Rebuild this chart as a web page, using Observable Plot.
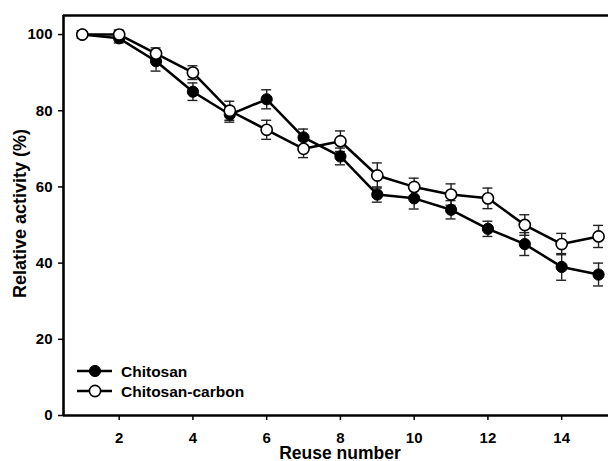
<!DOCTYPE html>
<html>
<head>
<meta charset="utf-8">
<script src="https://cdn.jsdelivr.net/npm/d3@7"></script>
<script src="https://cdn.jsdelivr.net/npm/@observablehq/plot@0.6"></script>
<style>
  html, body { margin: 0; padding: 0; background: #fff; }
  #chart { width: 608px; height: 461px; }
</style>
</head>
<body>
<div id="chart"></div>
<script>
const reuse = [1, 2, 3, 4, 5, 6, 7, 8, 9, 10, 11, 12, 13, 14, 15];
const chitosan = [100, 99, 93, 85, 79, 83, 73, 68, 58, 57, 54, 49, 45, 39, 37];
const chitosanErr = [1, 1.2, 2.6, 2.3, 2, 2.5, 2.2, 2.2, 2, 2.8, 2.4, 2, 3, 3.5, 3];
const carbon = [100, 100, 95, 90, 80, 75, 70, 72, 63, 60, 58, 57, 50, 45, 47];
const carbonErr = [1, 1.2, 1.5, 1.8, 2.5, 2.5, 2.3, 2.7, 3.3, 2.3, 2.8, 2.7, 2.7, 2.8, 2.9];
const seriesNames = ["Chitosan", "Chitosan-carbon"];
const xTicks = [2, 4, 6, 8, 10, 12, 14];
const yTicks = [0, 20, 40, 60, 80, 100];
const xDomain = [0.49, 15.27];
const yDomain = [0, 105];

const data = [];
reuse.forEach((r, i) => {
  data.push({x: r, y: chitosan[i], e: chitosanErr[i], s: seriesNames[0]});
});
reuse.forEach((r, i) => {
  data.push({x: r, y: carbon[i], e: carbonErr[i], s: seriesNames[1]});
});
const capHalf = 0.135;
const font = "'Liberation Sans', Arial, sans-serif";

const plot = Plot.plot({
  width: 608,
  height: 461,
  marginLeft: 63,
  marginRight: 0,
  marginTop: 15,
  marginBottom: 46,
  style: {fontFamily: font, background: "#fff", overflow: "visible"},
  x: {domain: xDomain},
  y: {domain: yDomain},
  marks: [
    Plot.axisX({ticks: xTicks, tickSize: 5, tickPadding: 12, fontSize: 15, fontWeight: "bold", label: null, strokeWidth: 1.5, stroke: "#000", fill: "#000"}),
    Plot.axisY({ticks: yTicks, tickSize: 5, tickPadding: 6, fontSize: 15, fontWeight: "bold", label: null, strokeWidth: 1.5, stroke: "#000", fill: "#000"}),
    // error bars
    Plot.ruleX(data, {x: "x", y1: d => d.y - d.e, y2: d => d.y + d.e, stroke: "#222", strokeWidth: 1.4}),
    Plot.ruleY(data, {y: d => d.y - d.e, x1: d => d.x - capHalf, x2: d => d.x + capHalf, stroke: "#222", strokeWidth: 1.4}),
    Plot.ruleY(data, {y: d => d.y + d.e, x1: d => d.x - capHalf, x2: d => d.x + capHalf, stroke: "#222", strokeWidth: 1.4}),
    // lines
    Plot.line(data, {x: "x", y: "y", z: "s", stroke: "#000", strokeWidth: 2.5}),
    // points
    Plot.dot(data.filter(d => d.s === seriesNames[0]), {x: "x", y: "y", r: 5.6, fill: "#000", stroke: "#000", strokeWidth: 1}),
    Plot.dot(data.filter(d => d.s === seriesNames[1]), {x: "x", y: "y", r: 5.6, fill: "#fff", stroke: "#000", strokeWidth: 1.6}),
    // frame lines
    Plot.ruleY([yDomain[0]], {stroke: "#000", strokeWidth: 2.6}),
    Plot.ruleY([yDomain[1]], {stroke: "#000", strokeWidth: 2.6}),
    Plot.ruleX([xDomain[0]], {stroke: "#000", strokeWidth: 2.6}),
    // axis titles
    Plot.text(["Reuse number"], {frameAnchor: "bottom", dx: 4, dy: 37.5, text: d => d, fontSize: 17.5, fontWeight: "bold", fill: "#000", lineAnchor: "middle"}),
    Plot.text(["Relative activity (%)"], {frameAnchor: "left", dx: -43, dy: -2, text: d => d, rotate: -90, fontSize: 18, fontWeight: "bold", fill: "#000", lineAnchor: "middle", textAnchor: "middle"})
  ]
});

// legend
const svg = d3.select(plot);
const lg = svg.append("g").attr("font-family", font).attr("font-size", 15.5).attr("font-weight", "bold").attr("text-anchor", "start");
seriesNames.forEach((name, i) => {
  const yy = 371 + i * 20;
  lg.append("line").attr("x1", 77).attr("x2", 112).attr("y1", yy).attr("y2", yy).attr("stroke", "#000").attr("stroke-width", 2.5);
  lg.append("circle").attr("cx", 95).attr("cy", yy).attr("r", 5.6)
    .attr("fill", i === 0 ? "#000" : "#fff").attr("stroke", "#000").attr("stroke-width", i === 0 ? 1 : 1.6);
  lg.append("text").attr("x", 121).attr("y", yy).attr("dy", "0.36em").attr("text-anchor", "start").attr("fill", "#000").text(name);
});

document.getElementById("chart").appendChild(plot);
</script>
</body>
</html>
